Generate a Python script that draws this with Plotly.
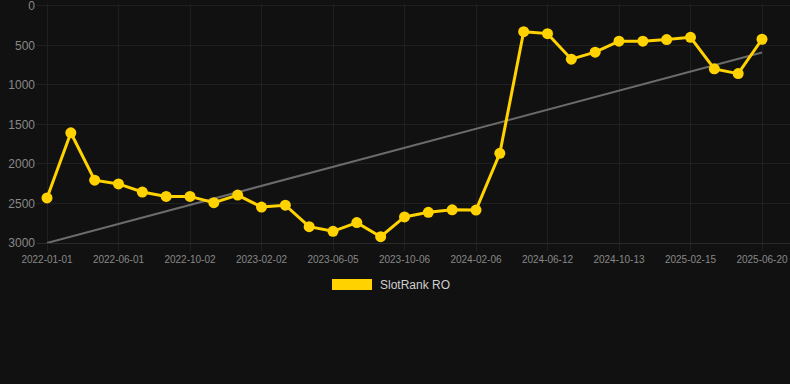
import plotly.graph_objects as go

dates = [
    "2022-01-01", "2022-02-20", "2022-04-12", "2022-06-01", "2022-07-13", "2022-08-23",
    "2022-10-02", "2022-11-12", "2022-12-23", "2023-02-02", "2023-03-16", "2023-04-25",
    "2023-06-05", "2023-07-17", "2023-08-26", "2023-10-06", "2023-11-16", "2023-12-27",
    "2024-02-06", "2024-03-18", "2024-05-01", "2024-06-12", "2024-07-24", "2024-09-01",
    "2024-10-13", "2024-11-24", "2025-01-04", "2025-02-15", "2025-03-29", "2025-05-09",
    "2025-06-20",
]
ranks = [
    2430, 1605, 2205, 2252, 2355, 2410, 2410, 2490, 2393, 2545, 2522, 2793,
    2852, 2742, 2920, 2670, 2612, 2580, 2583, 1865, 325, 350, 673, 585,
    446, 446, 425, 397, 796, 856, 421,
]
trend_x = [dates[0], dates[-1]]
trend_y = [3000, 590]
tick_labels = dates[::3]
y_ticks = [0, 500, 1000, 1500, 2000, 2500, 3000]
series_name = "SlotRank RO"

YELLOW = "#FFD200"
GRID = "#202020"
TEXT = "#888888"
FONT = "Liberation Sans, Arial, sans-serif"

fig = go.Figure()
fig.add_trace(go.Scatter(
    x=trend_x, y=trend_y, mode="lines",
    line=dict(color="#6b6b6b", width=2), showlegend=False, hoverinfo="skip",
))
fig.add_trace(go.Scatter(
    x=dates, y=ranks, mode="lines+markers", name=series_name,
    line=dict(color=YELLOW, width=3),
    marker=dict(color=YELLOW, size=11),
    showlegend=False, cliponaxis=False,
))

# legend drawn as box + label (Chart.js style)
fig.add_shape(type="rect", xref="paper", yref="paper",
              x0=(332 - 37) / 753, x1=(372 - 37) / 753,
              y0=(243 - 290) / 239, y1=(243 - 279) / 239,
              fillcolor=YELLOW, line=dict(width=0))
fig.add_annotation(xref="paper", yref="paper",
                   x=(378 - 37) / 753, y=(243 - 284.5) / 239,
                   xanchor="left", yanchor="middle", showarrow=False,
                   text=series_name, font=dict(family=FONT, size=12, color="#cfcfcf"))

fig.update_layout(
    width=790, height=384,
    margin=dict(l=37, r=0, t=4, b=141),
    paper_bgcolor="#111111", plot_bgcolor="#111111",
    font=dict(family=FONT, color=TEXT),
    showlegend=False,
)
fig.update_xaxes(
    type="category", categoryorder="array", categoryarray=dates,
    range=[-10 / 23.833, 30 + 28 / 23.833],
    tickmode="array", tickvals=tick_labels, ticktext=tick_labels,
    showgrid=True, gridcolor=GRID, gridwidth=1,
    ticks="outside", ticklen=7, tickcolor=GRID,
    tickfont=dict(size=10, color=TEXT), ticklabeloverflow="allow",
    showline=True, linecolor="#2a2a2a", zeroline=False,
)
fig.update_yaxes(
    range=[3000, -25], tickmode="array", tickvals=y_ticks,
    showgrid=True, gridcolor=GRID, gridwidth=1,
    tickfont=dict(size=12, color=TEXT), ticklabelstandoff=1,
    ticklabeloverflow="allow",
    zeroline=False, showline=False,
)

fig.write_html(
    "out.html",
    config={"displayModeBar": False},
    post_script="document.body.style.margin='0';document.body.style.background='#111111';",
)
